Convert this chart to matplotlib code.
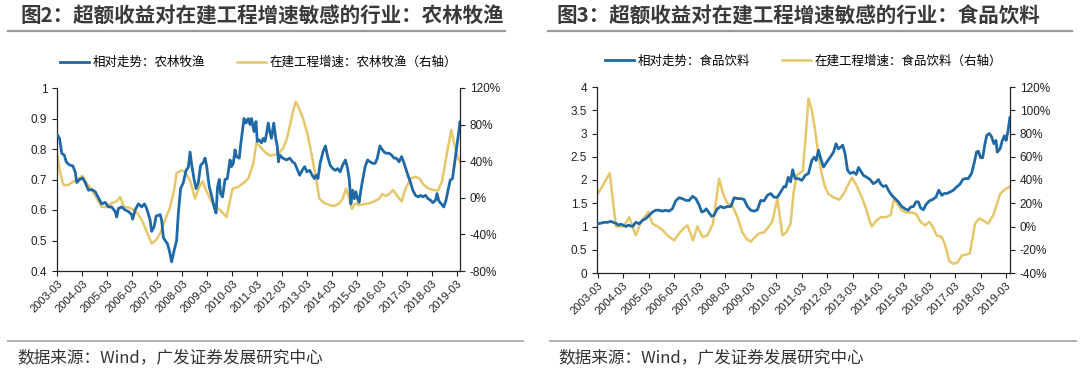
import numpy as np
import matplotlib.pyplot as plt
from matplotlib.ticker import FuncFormatter

plt.rcParams['font.family'] = ['Liberation Sans', 'Noto Sans CJK SC', 'DejaVu Sans']

# time axis: years since 2003-03
years = [f'{y}-03' for y in range(2003, 2020)]

# 图2 农林牧渔: relative trend (left axis)
t_agri_rel = [0, 0.08, 0.17, 0.27, 0.35, 0.44, 0.53, 0.61, 0.71, 0.77, 0.88, 1.0, 1.11, 1.24, 1.37, 1.51,
              1.64, 1.77, 1.91, 2.04, 2.17, 2.31, 2.37, 2.44, 2.57, 2.71, 2.84, 2.97, 3.01, 3.11, 3.24, 3.37,
              3.48, 3.57, 3.71, 3.77, 3.87, 3.95, 4.11, 4.17, 4.24, 4.31, 4.4, 4.48, 4.57, 4.67, 4.77, 4.84,
              4.93, 5.04, 5.15, 5.24, 5.31, 5.37, 5.47, 5.55, 5.64, 5.73, 5.84, 5.91, 5.97, 6.08, 6.17, 6.27,
              6.35, 6.41, 6.48, 6.53, 6.61, 6.71, 6.8, 6.91, 6.97, 7.04, 7.11, 7.17, 7.28, 7.33, 7.41, 7.47,
              7.55, 7.64, 7.71, 7.77, 7.87, 7.95, 8.0, 8.08, 8.17, 8.24, 8.31, 8.37, 8.44, 8.5, 8.57, 8.66,
              8.74, 8.8, 8.85, 8.9, 9.03, 9.17, 9.3, 9.41, 9.5, 9.59, 9.7, 9.8, 9.9, 9.99, 10.1, 10.2, 10.29,
              10.36, 10.43, 10.52, 10.63, 10.73, 10.82, 10.92, 11.02, 11.13, 11.22, 11.32, 11.42, 11.53,
              11.62, 11.69, 11.75, 11.82, 11.89, 11.95, 12.02, 12.08, 12.15, 12.22, 12.32, 12.42, 12.51,
              12.62, 12.72, 12.81, 12.91, 12.99, 13.08, 13.17, 13.28, 13.38, 13.48, 13.57, 13.68, 13.78,
              13.88, 13.97, 14.05, 14.14, 14.23, 14.34, 14.45, 14.54, 14.63, 14.74, 14.84, 14.94, 15.03,
              15.14, 15.2, 15.27, 15.37, 15.47, 15.56, 15.64, 15.73, 15.82, 15.9, 16.0, 16.06, 16.12, 16.16]
agri_rel = [0.846, 0.835, 0.786, 0.78, 0.758, 0.75, 0.746, 0.745, 0.725, 0.69, 0.70, 0.705, 0.69, 0.665,
            0.667, 0.66, 0.64, 0.62, 0.625, 0.61, 0.61, 0.595, 0.577, 0.605, 0.61, 0.60, 0.595, 0.585, 0.57,
            0.60, 0.62, 0.61, 0.62, 0.605, 0.567, 0.53, 0.545, 0.58, 0.585, 0.567, 0.51, 0.50, 0.49, 0.467,
            0.43, 0.467, 0.50, 0.59, 0.67, 0.69, 0.73, 0.74, 0.79, 0.75, 0.70, 0.67, 0.69, 0.746, 0.756,
            0.77, 0.746, 0.675, 0.648, 0.61, 0.59, 0.675, 0.70, 0.654, 0.643, 0.70, 0.703, 0.764, 0.742,
            0.753, 0.797, 0.775, 0.77, 0.81, 0.863, 0.90, 0.885, 0.90, 0.88, 0.90, 0.857, 0.89, 0.825, 0.83,
            0.82, 0.835, 0.825, 0.85, 0.885, 0.857, 0.835, 0.885, 0.835, 0.81, 0.758, 0.78, 0.77, 0.764,
            0.77, 0.758, 0.753, 0.736, 0.714, 0.73, 0.742, 0.725, 0.73, 0.714, 0.703, 0.714, 0.703, 0.753,
            0.79, 0.81, 0.775, 0.747, 0.736, 0.73, 0.736, 0.725, 0.747, 0.764, 0.736, 0.698, 0.62, 0.665,
            0.637, 0.66, 0.637, 0.625, 0.665, 0.698, 0.742, 0.764, 0.758, 0.753, 0.753, 0.77, 0.81, 0.80,
            0.79, 0.786, 0.786, 0.78, 0.77, 0.77, 0.758, 0.775, 0.753, 0.73, 0.71, 0.69, 0.665, 0.648,
            0.643, 0.648, 0.643, 0.648, 0.637, 0.632, 0.624, 0.632, 0.654, 0.63, 0.62, 0.61, 0.632, 0.665,
            0.698, 0.703, 0.753, 0.813, 0.85, 0.89, 0.875]

# 图2 农林牧渔: construction-in-progress growth, % (right axis)
t_agri_cip = [0, 0.11, 0.24, 0.44, 0.64, 0.84, 1.0, 1.17, 1.37, 1.57, 1.77, 1.97, 2.17, 2.37, 2.51, 2.67,
              2.84, 3.04, 3.2, 3.37, 3.57, 3.77, 3.95, 4.11, 4.31, 4.51, 4.67, 4.77, 4.97, 5.11, 5.31, 5.51,
              5.68, 5.81, 5.97, 6.17, 6.37, 6.57, 6.77, 7.01, 7.24, 7.44, 7.64, 7.84, 7.97, 8.11, 8.31, 8.5,
              8.7, 8.9, 9.03, 9.17, 9.3, 9.43, 9.54, 9.67, 9.83, 9.99, 10.16, 10.33, 10.49, 10.65, 10.89,
              11.09, 11.29, 11.42, 11.55, 11.69, 11.79, 11.93, 12.08, 12.28, 12.48, 12.68, 12.88, 13.01,
              13.15, 13.28, 13.44, 13.61, 13.78, 13.94, 14.14, 14.34, 14.5, 14.67, 14.87, 15.07, 15.24,
              15.4, 15.6, 15.77, 15.9, 16.04, 16.15]
agri_cip = [45, 27, 14, 14, 18, 21, 24, 16, 8.5, -0.6, -10, -10, -6, -4, 1, -10, -10.5, -13, -17, -24,
            -37, -50, -46, -39, -24, -10, 8.5, 27, 30, 28, 19, -1, 12, 18, 7, -4, -10, -15, -21, 10, 12, 16,
            21, 37, 61, 56, 50, 46, 47, 50, 54, 63, 78, 94, 105, 98, 87, 72, 50, 25, -1, -5, -8, -9, -6, -1,
            10, -1, -12, -6, -8, -7, -6, -4, -1, 4, 2, 4, 8.5, 2, -4, 10, 21, 23, 21, 14, 10, 8.5, 8, 18,
            49, 74, 58, 43, 38]

# 图3 食品饮料: relative trend (left axis)
t_food_rel = [0, 0.13, 0.26, 0.39, 0.52, 0.61, 0.72, 0.81, 0.91, 1.0, 1.11, 1.21, 1.37, 1.5, 1.63, 1.76,
              1.89, 2.02, 2.15, 2.28, 2.41, 2.54, 2.67, 2.8, 2.93, 3.06, 3.19, 3.32, 3.46, 3.59, 3.72, 3.85,
              3.98, 4.08, 4.17, 4.26, 4.37, 4.47, 4.56, 4.69, 4.82, 4.95, 5.08, 5.22, 5.35, 5.48, 5.61, 5.74,
              5.87, 6.0, 6.13, 6.26, 6.39, 6.52, 6.65, 6.78, 6.91, 7.04, 7.17, 7.3, 7.37, 7.47, 7.56, 7.64,
              7.74, 7.87, 8.0, 8.13, 8.26, 8.39, 8.48, 8.56, 8.65, 8.74, 8.85, 8.98, 9.11, 9.24, 9.34, 9.43,
              9.53, 9.6, 9.69, 9.79, 9.89, 10.02, 10.13, 10.22, 10.31, 10.41, 10.54, 10.67, 10.8, 10.91,
              11.0, 11.09, 11.19, 11.3, 11.39, 11.52, 11.65, 11.78, 11.91, 12.04, 12.17, 12.26, 12.37,
              12.47, 12.56, 12.65, 12.76, 12.86, 12.99, 13.12, 13.25, 13.36, 13.48, 13.57, 13.67, 13.8,
              13.93, 14.06, 14.19, 14.3, 14.39, 14.52, 14.65, 14.74, 14.84, 14.91, 15.0, 15.08, 15.17,
              15.24, 15.34, 15.43, 15.52, 15.6, 15.65, 15.76, 15.85, 15.93, 16.0, 16.07, 16.15, 16.2]
food_rel = [1.06, 1.07, 1.09, 1.09, 1.11, 1.09, 1.07, 1.03, 1.05, 1.03, 1.0, 1.03, 1.0, 1.09, 1.06, 1.13,
            1.17, 1.24, 1.31, 1.35, 1.35, 1.33, 1.35, 1.33, 1.38, 1.55, 1.62, 1.60, 1.56, 1.56, 1.65, 1.60,
            1.46, 1.31, 1.33, 1.38, 1.29, 1.22, 1.24, 1.38, 1.43, 1.40, 1.43, 1.43, 1.62, 1.60, 1.60, 1.58,
            1.43, 1.35, 1.33, 1.36, 1.56, 1.55, 1.67, 1.71, 1.63, 1.63, 1.74, 1.86, 1.85, 2.06, 1.96, 2.22,
            2.03, 2.03, 1.99, 2.10, 2.14, 2.42, 2.49, 2.42, 2.64, 2.46, 2.28, 2.39, 2.49, 2.60, 2.78, 2.67,
            2.71, 2.75, 2.57, 2.21, 2.14, 2.17, 2.12, 2.27, 2.19, 2.10, 2.06, 2.01, 1.92, 1.96, 2.01, 1.91,
            1.86, 1.88, 1.78, 1.67, 1.60, 1.53, 1.43, 1.38, 1.35, 1.42, 1.43, 1.53, 1.53, 1.40, 1.36, 1.47,
            1.55, 1.58, 1.63, 1.78, 1.67, 1.71, 1.71, 1.74, 1.78, 1.85, 1.91, 2.01, 2.03, 2.03, 2.15, 2.35,
            2.60, 2.62, 2.48, 2.48, 2.78, 2.96, 3.00, 2.93, 2.78, 2.85, 2.60, 2.67, 2.85, 2.95, 2.85, 3.05,
            3.35, 3.25]

# 图3 食品饮料: construction-in-progress growth, % (right axis)
t_food_cip = [0, 0.2, 0.35, 0.48, 0.59, 0.72, 0.85, 1.0, 1.13, 1.24, 1.37, 1.5, 1.63, 1.79, 1.99, 2.15,
              2.35, 2.54, 2.74, 3.0, 3.19, 3.35, 3.52, 3.74, 3.91, 4.11, 4.3, 4.52, 4.76, 4.92, 5.08, 5.28,
              5.48, 5.67, 5.83, 6.0, 6.17, 6.32, 6.52, 6.71, 6.84, 7.04, 7.24, 7.39, 7.56, 7.67, 7.8, 7.91,
              8.04, 8.17, 8.26, 8.39, 8.52, 8.65, 8.78, 8.91, 9.04, 9.24, 9.47, 9.63, 9.79, 9.96, 10.15,
              10.35, 10.52, 10.65, 10.74, 10.91, 11.09, 11.3, 11.48, 11.61, 11.72, 11.91, 12.11, 12.3,
              12.47, 12.65, 12.82, 12.99, 13.12, 13.28, 13.48, 13.61, 13.78, 13.93, 14.09, 14.26, 14.45,
              14.58, 14.78, 14.95, 15.11, 15.3, 15.5, 15.65, 15.76, 15.95, 16.12]
food_cip = [28, 35, 41, 46, 25, 0, 0, 0, 4, 8, 0, -7.6, 0, 7, 12.5, 2.4, 0, -3, -7.6, -12, -6, -2, 1, -12,
            0, -9, -7.6, 2.4, 41, 28, 20, 18, 8, -5, -10.5, -13, -9, -6, -5, 0, 4, 24, -7.6, -5, 2.4, 28, 44,
            46, 48, 83, 110, 100, 83, 61, 45, 34, 28, 25, 23, 28, 35, 42, 35, 25, 15, 5, 0, 5, 8, 8, 10, 24,
            20, 14, 12, 12, 11, 4, 1, 4, 0, -7.6, -9, -16, -30, -32, -31, -25, -24, -23, 2.4, 7, 5, 2.4, 10,
            20, 28, 32, 34]

BLUE = '#1f69a6'
GOLD = '#e6c76a'
CJK = ['Noto Sans CJK SC', 'DejaVu Sans']

fig = plt.figure(figsize=(10.8, 3.72), dpi=100)

pct = FuncFormatter(lambda v, p: f'{v:.0f}%')
num = FuncFormatter(lambda v, p: f'{v:g}')


def style_axes(ax, ax2):
    for a in (ax, ax2):
        a.spines['top'].set_visible(False)
        for s in ('left', 'right', 'bottom'):
            a.spines[s].set_color('#222222')
            a.spines[s].set_linewidth(0.9)
        a.tick_params(direction='out', length=3.5, width=0.8, colors='#222222', labelsize=8.5)
    ax.spines['right'].set_visible(False)
    ax2.spines['left'].set_visible(False)
    ax2.spines['bottom'].set_visible(False)
    ax.set_xticks(range(len(years)))
    ax.set_xticklabels(years, rotation=45, ha='right', rotation_mode='anchor', fontsize=8)
    ax.tick_params(axis='x', pad=2)


def panel(rect, title_x, title, t1, v1, t2, v2, lab1, lab2, ylim, yticks, y2lim, y2ticks, xmax):
    ax = fig.add_axes(rect)
    ax2 = ax.twinx()
    ax2.plot(t2, v2, color=GOLD, lw=1.8, zorder=2)
    ax.plot(t1, v1, color=BLUE, lw=2.0, zorder=3)
    ax.set_zorder(ax2.get_zorder() + 1)
    ax.patch.set_visible(False)
    ax.set_xlim(-0.02, xmax)
    ax.set_ylim(*ylim)
    ax.set_yticks(yticks)
    ax.yaxis.set_major_formatter(num)
    ax2.set_ylim(*y2lim)
    ax2.set_yticks(y2ticks)
    ax2.yaxis.set_major_formatter(pct)
    style_axes(ax, ax2)
    h1, = ax.plot([], [], color=BLUE, lw=2.0)
    h2, = ax.plot([], [], color=GOLD, lw=1.8)
    ax.legend([h1, h2], [lab1, lab2], ncol=2, frameon=False, loc='center',
              bbox_to_anchor=(0.5, 1.14), prop={'family': CJK, 'size': 9},
              handlelength=2.3, handletextpad=0.3, columnspacing=2.6)
    # heading
    fig.text(title_x, 1 - 16 / 372, title, family=CJK, fontsize=14.8, fontweight='bold',
             color='#3a3a3a', va='center', ha='left')
    return ax


panel([57 / 1080, 1 - 271 / 372, 403 / 1080, 183 / 372], 20 / 1080,
      '图2：超额收益对在建工程增速敏感的行业：农林牧渔',
      t_agri_rel, agri_rel, t_agri_cip, agri_cip,
      '相对走势：农林牧渔', '在建工程增速：农林牧渔（右轴）',
      (0.4, 1.0), np.arange(0.4, 1.01, 0.1), (-80, 120), range(-80, 121, 40), 16.12)

panel([597 / 1080, 1 - 273 / 372, 413 / 1080, 186 / 372], 556 / 1080,
      '图3：超额收益对在建工程增速敏感的行业：食品饮料',
      t_food_rel, food_rel, t_food_cip, food_cip,
      '相对走势：食品饮料', '在建工程增速：食品饮料（右轴）',
      (0, 4), np.arange(0, 4.01, 0.5), (-40, 120), range(-40, 121, 20), 16.15)

# rules under headings and above sources
for x0, x1 in ((8, 505), (548, 1072)):
    fig.add_artist(plt.Line2D([x0 / 1080, x1 / 1080], [1 - 31 / 372] * 2, color='#9a9a9a', lw=1.6))
for x0, x1 in ((8, 523), (550, 1076)):
    fig.add_artist(plt.Line2D([x0 / 1080, x1 / 1080], [1 - 341 / 372] * 2, color='#b0b0b0', lw=1.4))
for x in (17, 558):
    fig.text(x / 1080, 1 - 358 / 372, '数据来源：Wind，广发证券发展研究中心', family=CJK,
             fontsize=12, color='#333333', va='center', ha='left')

fig.savefig('out.png', dpi=100)
